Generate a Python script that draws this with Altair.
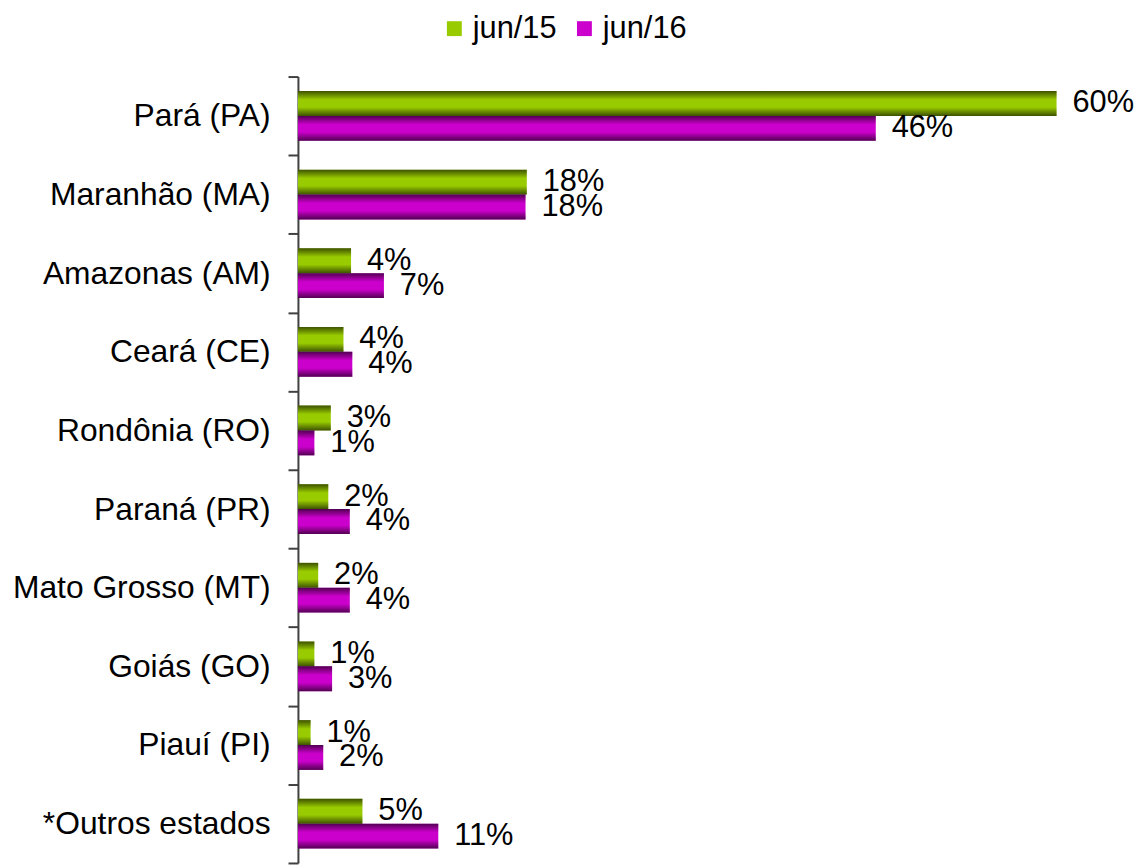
import altair as alt
import pandas as pd

states = ["Pará (PA)", "Maranhão (MA)", "Amazonas (AM)", "Ceará (CE)", "Rondônia (RO)",
          "Paraná (PR)", "Mato Grosso (MT)", "Goiás (GO)", "Piauí (PI)", "*Outros estados"]
jun15 = [60.0, 18.1, 4.2, 3.6, 2.6, 2.4, 1.6, 1.3, 1.0, 5.1]
jun16 = [45.7, 18.0, 6.8, 4.3, 1.3, 4.1, 4.1, 2.7, 2.0, 11.1]
labels15 = ["60%", "18%", "4%", "4%", "3%", "2%", "2%", "1%", "1%", "5%"]
labels16 = ["46%", "18%", "7%", "4%", "1%", "4%", "4%", "3%", "2%", "11%"]
series = ["jun/15", "jun/16"]
colors = ["#99cc00", "#cc00cc"]

rows = []
for s, v15, v16, l15, l16 in zip(states, jun15, jun16, labels15, labels16):
    rows.append({"state": s, "series": series[0], "value": v15, "label": l15})
    rows.append({"state": s, "series": series[1], "value": v16, "label": l16})
df = pd.DataFrame(rows)

FONT = "Liberation Sans"

base = alt.Chart(df).encode(
    y=alt.Y("state:N", sort=states,
            scale=alt.Scale(paddingInner=0, paddingOuter=0),
            axis=alt.Axis(title=None, labelFontSize=32, labelFont=FONT, labelColor="black",
                          tickBand="extent", tickSize=10, labelPadding=18,
                          domainColor="#404040", tickColor="#404040",
                          domainWidth=2, tickWidth=2, labelLimit=400)),
    yOffset=alt.YOffset("series:N", sort=series,
                        scale=alt.Scale(paddingInner=0, paddingOuter=0.58)),
)

bars = base.mark_bar().encode(
    x=alt.X("value:Q", scale=alt.Scale(domain=[0, 60], nice=False), axis=None),
    color=alt.Color("series:N", scale=alt.Scale(domain=series, range=colors),
                    legend=alt.Legend(title=None, orient="none", direction="horizontal",
                                      legendX=142, legendY=-64, symbolType="square",
                                      symbolSize=225, symbolStrokeWidth=0,
                                      labelFontSize=31, labelFont=FONT, labelColor="black",
                                      labelOffset=3, columnPadding=12)),
)

shade = base.mark_bar(
    fill=alt.Gradient(
        gradient="linear", x1=0, y1=0, x2=0, y2=1,
        stops=[
            alt.GradientStop(color="rgba(0,0,0,0.6)", offset=0),
            alt.GradientStop(color="rgba(0,0,0,0)", offset=0.35),
            alt.GradientStop(color="rgba(0,0,0,0)", offset=0.65),
            alt.GradientStop(color="rgba(0,0,0,0.6)", offset=1),
        ],
    )
).encode(x=alt.X("value:Q"))

text = base.mark_text(align="left", baseline="middle", dx=16, fontSize=31, font=FONT,
                      color="black").encode(
    x=alt.X("value:Q"),
    text=alt.Text("label:N"),
)

chart = alt.layer(bars, shade, text).properties(
    width=764, height=792,
    autosize=alt.AutoSizeParams(type="none"),
    padding={"left": 292, "top": 66, "right": 80, "bottom": 0},
    background="white",
).configure_view(stroke=None)

chart.save("out.html", embed_options={"renderer": "svg", "actions": False})
